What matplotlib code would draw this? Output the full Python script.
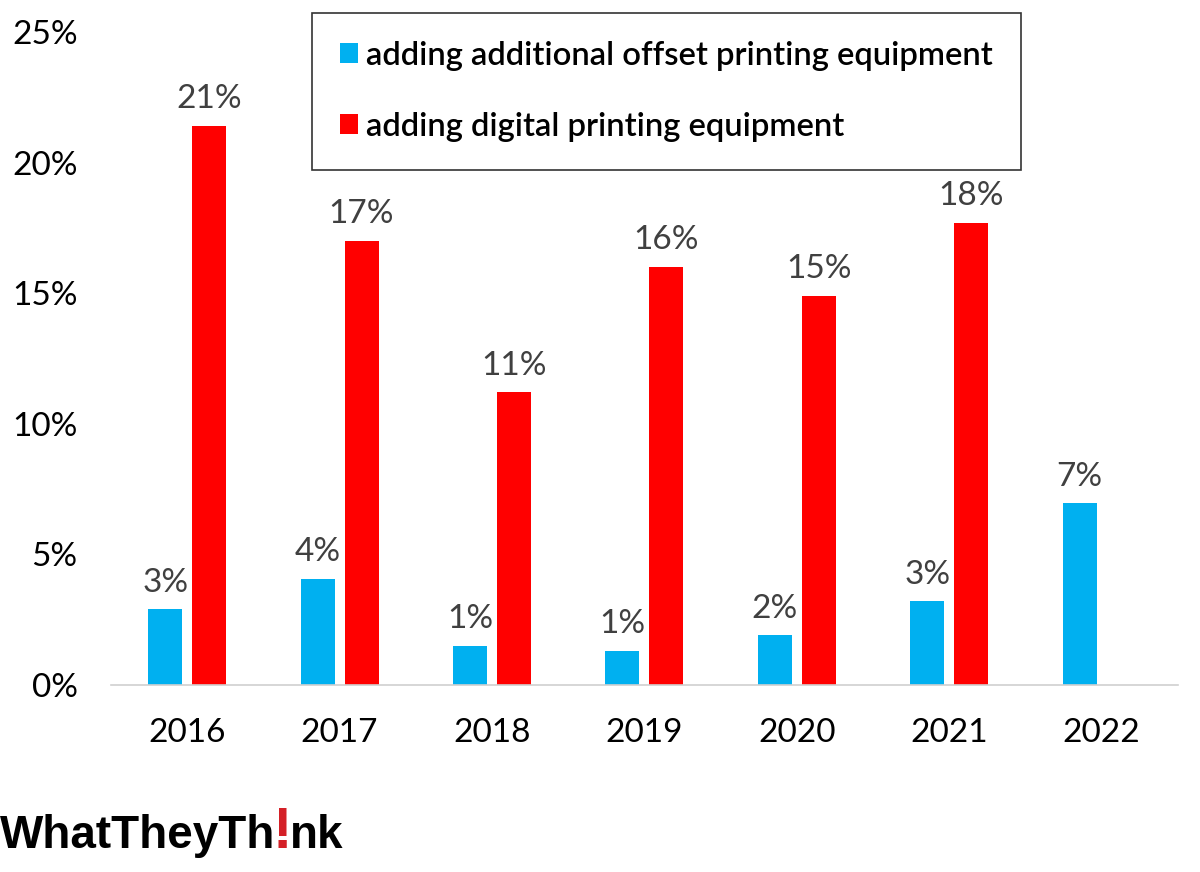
import matplotlib
matplotlib.use("Agg")
import matplotlib.pyplot as plt
import numpy as np

# chart values (percent)
years = ['2016', '2017', '2018', '2019', '2020', '2021', '2022']
offset_vals = [2.9, 4.05, 1.5, 1.3, 1.9, 3.2, 6.95]
digital_vals = [21.4, 17.0, 11.2, 16.0, 14.9, 17.7, np.nan]
offset_labels = ['3%', '4%', '1%', '1%', '2%', '3%', '7%']
digital_labels = ['21%', '17%', '11%', '16%', '15%', '18%', '']
legend_names = ['adding additional offset printing equipment',
                'adding digital printing equipment']
ytick_vals = [0, 5, 10, 15, 20, 25]

BLUE = '#00B0F0'
RED = '#FF0000'
plt.rcParams['font.family'] = ['Lato', 'DejaVu Sans']

fig = plt.figure(figsize=(12, 8.72), dpi=100)
ax = fig.add_axes([0.0925, 0.2144, 0.889, 0.749])

x = np.arange(len(years))
w = 0.223
off = 0.144
ax.bar(x - off, offset_vals, w, color=BLUE, label=legend_names[0])
ax.bar(x + off, np.nan_to_num(digital_vals), w, color=RED, label=legend_names[1])

for xi, v, t in zip(x, offset_vals, offset_labels):
    ax.text(xi - off, v + 0.45, t, ha='center', va='bottom', fontsize=24, color='#404040')
for xi, v, t in zip(x, digital_vals, digital_labels):
    if t:
        ax.text(xi + off, v + 0.45, t, ha='center', va='bottom', fontsize=24, color='#404040')

ax.set_xlim(-0.5, len(years) - 0.5)
ax.set_ylim(0, 25)
ax.set_yticks(ytick_vals)
ax.set_yticklabels([f'{v}%' for v in ytick_vals], fontsize=24)
ax.set_xticks(x)
ax.set_xticklabels(years, fontsize=24)
ax.tick_params(axis='both', length=0)
ax.tick_params(axis='y', pad=24)
ax.tick_params(axis='x', pad=24)
for s in ['top', 'right', 'left']:
    ax.spines[s].set_visible(False)
ax.spines['bottom'].set_color('#d0d0d0')
ax.spines['bottom'].set_linewidth(1.2)

leg = fig.legend(loc='upper left', bbox_to_anchor=(312 / 1200, 1 - 13 / 872),
                 fontsize=23.6, frameon=True, fancybox=False, edgecolor='black',
                 handlelength=0.55, handleheight=0.55, handletextpad=0.25,
                 labelspacing=1.25, borderpad=0.85, borderaxespad=0)
leg.get_frame().set_linewidth(1.2)
for t in leg.get_texts():
    t.set_fontweight('semibold')

# logo text
fig.canvas.draw()
r = fig.canvas.get_renderer()
ly = 1 - 848 / 872
t1 = fig.text(0.0, ly, 'WhatTheyTh', fontsize=33, fontweight='heavy', color='black',
              family='Liberation Sans')
bb = t1.get_window_extent(r)
t2 = fig.text(bb.x1 / 1200 - 0.002, ly, '!', fontsize=42, fontweight='heavy', color='#D42027',
              family='Liberation Sans')
bb2 = t2.get_window_extent(r)
fig.text(bb2.x1 / 1200 - 0.002, ly, 'nk', fontsize=33, fontweight='heavy', color='black',
         family='Liberation Sans')

fig.savefig('out.png', dpi=100)
